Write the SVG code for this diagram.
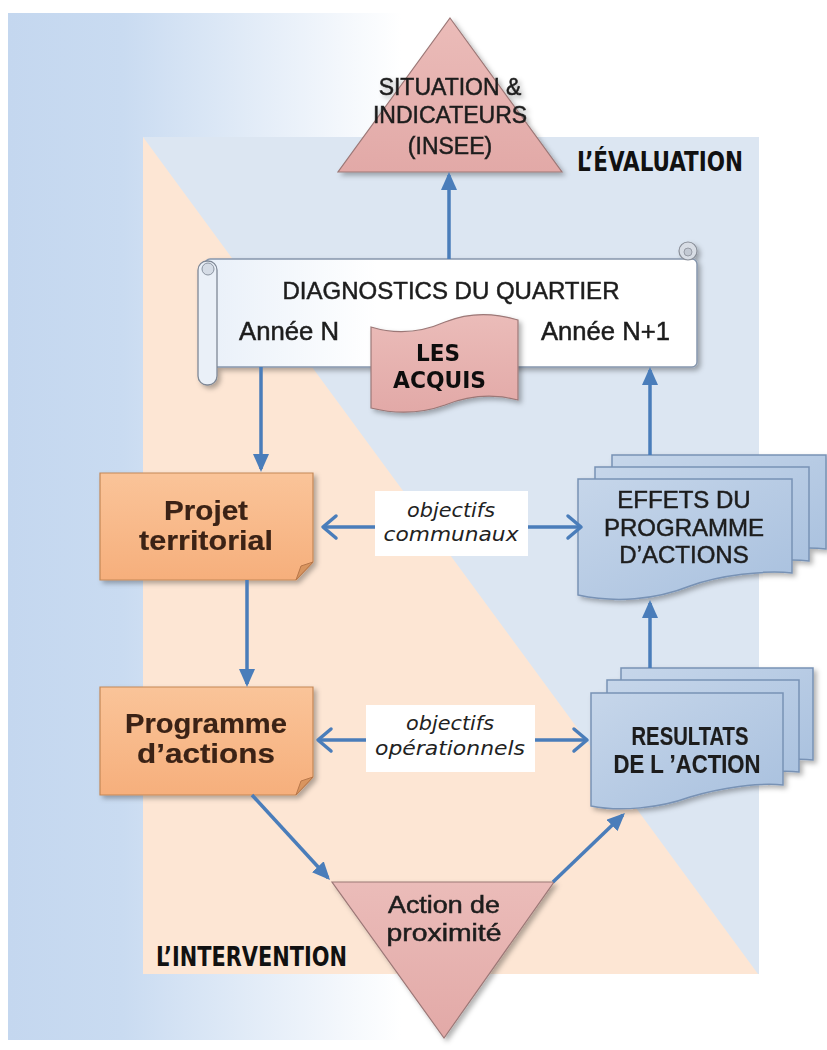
<svg xmlns="http://www.w3.org/2000/svg" width="827" height="1050" viewBox="0 0 827 1050">
<defs>
  <linearGradient id="bgGrad" x1="0" y1="0" x2="1" y2="0">
    <stop offset="0" stop-color="#c4d7ef"/>
    <stop offset="0.14" stop-color="#c9dbf1"/>
    <stop offset="0.48" stop-color="#ffffff"/>
  </linearGradient>
  <linearGradient id="orangeGrad" x1="0" y1="0" x2="0" y2="1">
    <stop offset="0" stop-color="#fac499"/>
    <stop offset="1" stop-color="#f6af7c"/>
  </linearGradient>
  <linearGradient id="blueDoc" x1="0" y1="0" x2="1" y2="1">
    <stop offset="0" stop-color="#c6d6ea"/>
    <stop offset="1" stop-color="#a8c0de"/>
  </linearGradient>
  <linearGradient id="pinkGrad" x1="0" y1="0" x2="0" y2="1">
    <stop offset="0" stop-color="#ebbcb9"/>
    <stop offset="1" stop-color="#e2a9a7"/>
  </linearGradient>
  <linearGradient id="scrollGrad" x1="0" y1="0" x2="1" y2="0">
    <stop offset="0" stop-color="#e9f0f9"/>
    <stop offset="0.35" stop-color="#ffffff"/>
  </linearGradient>
  <filter id="sh" x="-10%" y="-10%" width="130%" height="130%">
    <feDropShadow dx="3" dy="3" stdDeviation="2.5" flood-color="#000" flood-opacity="0.3"/>
  </filter>
  <marker id="ah" viewBox="0 0 18 16" refX="15" refY="8" markerWidth="18" markerHeight="16" markerUnits="userSpaceOnUse" orient="auto">
    <path d="M0,0 L18,8 L0,16 Z" fill="#4a7dba"/>
  </marker>
  <marker id="av" viewBox="0 0 16 24" refX="14" refY="12" markerWidth="16" markerHeight="24" markerUnits="userSpaceOnUse" orient="auto" overflow="visible">
    <path d="M1,1 L14,12 L1,23" fill="none" stroke="#4a7dba" stroke-width="3.5" stroke-linecap="round" stroke-linejoin="round"/>
  </marker>
</defs>
<style>
  .t { font-family: "Liberation Sans", Arial, sans-serif; fill: #1e1e1e; stroke: #1e1e1e; stroke-width: 0.5; }
  .b { font-weight: bold; stroke-width: 0.2; }
  .brown { fill: #3a2214; stroke: #3a2214; }
  .imp { font-family: "DejaVu Sans Condensed", "DejaVu Sans", sans-serif; font-weight: bold; fill: #111111; }
  .hand { font-family: "DejaVu Sans", sans-serif; font-style: italic; fill: #222222; }
  .conn { stroke: #4a7dba; stroke-width: 3.5; fill: none; }
  .doc { fill: url(#blueDoc); stroke: #7892b5; stroke-width: 1.5; }
  .box { fill: url(#orangeGrad); stroke: #c48756; stroke-width: 1.2; }
  .fold { fill: #d9955f; stroke: #b8774a; stroke-width: 1; }
  .pink { fill: url(#pinkGrad); stroke: #9c7877; stroke-width: 1.2; }
  .label { fill: #ffffff; }
</style>

<!-- background -->
<g id="background">
  <rect x="8" y="13" width="819" height="1027" fill="url(#bgGrad)"/>
  <rect x="143" y="137" width="616" height="837" fill="#dce6f2"/>
  <polygon points="143,137 143,974 758,974" fill="#fde6d4"/>
</g>

<!-- nodes -->
<g id="situation" filter="url(#sh)">
  <polygon class="pink" points="450,18 562,172 338,172"/>
  <text class="t" x="450" y="95" font-size="23" text-anchor="middle">SITUATION &amp;</text>
  <text class="t" x="450" y="123" font-size="23" text-anchor="middle">INDICATEURS</text>
  <text class="t" x="450" y="154" font-size="23" text-anchor="middle">(INSEE)</text>
</g>

<g id="label-evaluation">
  <text class="imp" x="577" y="171" font-size="27" textLength="166" lengthAdjust="spacingAndGlyphs">L’ÉVALUATION</text>
</g>

<g id="diagnostics" filter="url(#sh)">
  <rect x="205" y="259" width="492" height="108" rx="5" fill="url(#scrollGrad)" stroke="#8797ad" stroke-width="1.5"/>
  <rect x="198" y="261" width="19" height="124" rx="9" fill="#eaf0f8" stroke="#7f8896" stroke-width="1.3"/>
  <circle cx="208" cy="269" r="6" fill="#d5dce6" stroke="#8a93a0" stroke-width="1"/>
  <circle cx="688" cy="251" r="9" fill="#d8dde5" stroke="#8a8f99" stroke-width="1.2"/>
  <circle cx="688" cy="252" r="4" fill="#c3c9d3" stroke="#8a8f99" stroke-width="0.8"/>
  <text class="t" x="451" y="299" font-size="24" text-anchor="middle">DIAGNOSTICS DU QUARTIER</text>
  <text class="t" x="239" y="340" font-size="25" textLength="100" lengthAdjust="spacingAndGlyphs">Année N</text>
  <text class="t" x="541" y="340" font-size="25" textLength="129" lengthAdjust="spacingAndGlyphs">Année N+1</text>
</g>

<g id="acquis" filter="url(#sh)">
  <path class="pink" d="M371,327 C397,335 420,333 445,322 C470,312 495,313 518,320 L518,400 C495,394 470,395 445,405 C420,414 395,414 371,408 Z"/>
  <text class="imp" x="416" y="361" font-size="23" textLength="44" lengthAdjust="spacingAndGlyphs">LES</text>
  <text class="imp" x="393" y="388" font-size="23" textLength="93" lengthAdjust="spacingAndGlyphs">ACQUIS</text>
</g>

<g id="projet" filter="url(#sh)">
  <path class="box" d="M100,473 H313 V562 L296,580 H100 Z"/>
  <path class="fold" d="M313,562 L301,566 L296,580 Z"/>
  <text class="t b brown" x="206" y="520" font-size="27" text-anchor="middle" textLength="84" lengthAdjust="spacingAndGlyphs">Projet</text>
  <text class="t b brown" x="206" y="550" font-size="27" text-anchor="middle" textLength="134" lengthAdjust="spacingAndGlyphs">territorial</text>
</g>

<g id="programme" filter="url(#sh)">
  <path class="box" d="M100,687 H313 V777 L296,795 H100 Z"/>
  <path class="fold" d="M313,777 L301,781 L296,795 Z"/>
  <text class="t b brown" x="206" y="733" font-size="27" text-anchor="middle" textLength="162" lengthAdjust="spacingAndGlyphs">Programme</text>
  <text class="t b brown" x="206" y="763" font-size="27" text-anchor="middle" textLength="138" lengthAdjust="spacingAndGlyphs">d’actions</text>
</g>

<g id="effets" filter="url(#sh)">
  <path class="doc" transform="translate(34,-24)" d="M578,479 H792 V573 C765,570 720,575 690,586 C655,600 615,603 578,595 Z"/>
  <path class="doc" transform="translate(17,-12)" d="M578,479 H792 V573 C765,570 720,575 690,586 C655,600 615,603 578,595 Z"/>
  <path class="doc" d="M578,479 H792 V573 C765,570 720,575 690,586 C655,600 615,603 578,595 Z"/>
  <text class="t" x="684" y="508" font-size="24" text-anchor="middle">EFFETS DU</text>
  <text class="t" x="684" y="536" font-size="24" text-anchor="middle">PROGRAMME</text>
  <text class="t" x="684" y="563" font-size="24" text-anchor="middle">D’ACTIONS</text>
</g>

<g id="resultats" filter="url(#sh)">
  <path class="doc" transform="translate(30,-25)" d="M591,693 H783 V785 C760,782 720,788 690,797 C660,808 620,812 591,806 Z"/>
  <path class="doc" transform="translate(16,-13)" d="M591,693 H783 V785 C760,782 720,788 690,797 C660,808 620,812 591,806 Z"/>
  <path class="doc" d="M591,693 H783 V785 C760,782 720,788 690,797 C660,808 620,812 591,806 Z"/>
  <text class="t b" x="690" y="745" font-size="25" text-anchor="middle" textLength="117" lengthAdjust="spacingAndGlyphs">RESULTATS</text>
  <text class="t b" x="687" y="773" font-size="25" text-anchor="middle" textLength="147" lengthAdjust="spacingAndGlyphs">DE L ’ACTION</text>
</g>

<g id="action" filter="url(#sh)">
  <polygon class="pink" points="332,882 554,882 444,1038"/>
  <text class="t" x="444" y="913" font-size="23" text-anchor="middle" textLength="112" lengthAdjust="spacingAndGlyphs">Action de</text>
  <text class="t" x="444" y="941" font-size="23" text-anchor="middle" textLength="115" lengthAdjust="spacingAndGlyphs">proximité</text>
</g>

<g id="label-intervention">
  <text class="imp" x="156" y="966" font-size="27" textLength="191" lengthAdjust="spacingAndGlyphs">L’INTERVENTION</text>
</g>

<!-- connectors -->
<g id="connectors">
  <path class="conn" d="M449,259 V175" marker-end="url(#ah)"/>
  <path class="conn" d="M261,367 V469" marker-end="url(#ah)"/>
  <path class="conn" d="M247,580 V684" marker-end="url(#ah)"/>
  <path class="conn" d="M252,795 L328,877.8" marker-end="url(#ah)"/>
  <path class="conn" d="M553,882 L622.8,815" marker-end="url(#ah)"/>
  <path class="conn" d="M650,668 V603" marker-end="url(#ah)"/>
  <path class="conn" d="M650,455 V370" marker-end="url(#ah)"/>
  <path class="conn" d="M375,527 H323" marker-end="url(#av)"/>
  <path class="conn" d="M528,527 H581" marker-end="url(#av)"/>
  <path class="conn" d="M366,740 H318" marker-end="url(#av)"/>
  <path class="conn" d="M535,740 H587" marker-end="url(#av)"/>
</g>

<g id="label-communaux">
  <rect class="label" x="375" y="491" width="153" height="65"/>
  <text class="hand" x="451" y="517" font-size="20" text-anchor="middle" textLength="88" lengthAdjust="spacingAndGlyphs">objectifs</text>
  <text class="hand" x="451" y="541" font-size="20" text-anchor="middle" textLength="135" lengthAdjust="spacingAndGlyphs">communaux</text>
</g>

<g id="label-operationnels">
  <rect class="label" x="366" y="705" width="169" height="67"/>
  <text class="hand" x="450" y="730" font-size="20" text-anchor="middle" textLength="88" lengthAdjust="spacingAndGlyphs">objectifs</text>
  <text class="hand" x="450" y="755" font-size="20" text-anchor="middle" textLength="150" lengthAdjust="spacingAndGlyphs">opérationnels</text>
</g>
</svg>
